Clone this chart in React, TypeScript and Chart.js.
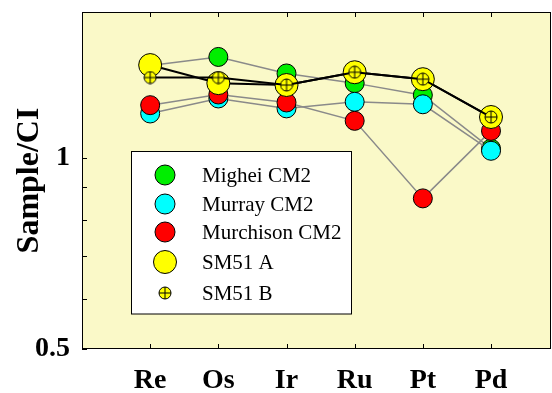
import React, { useEffect, useRef } from 'react';
import { Chart, registerables } from 'chart.js';

Chart.register(...registerables);

const categories = ['Re', 'Os', 'Ir', 'Ru', 'Pt', 'Pd'];
const seriesNames = ['Mighei CM2', 'Murray CM2', 'Murchison CM2', 'SM51 A', 'SM51 B'];
const mighei = [1.40, 1.444, 1.36, 1.313, 1.257, 1.035];
const murray = [1.176, 1.242, 1.198, 1.227, 1.216, 1.027];
const murchison = [1.212, 1.26, 1.224, 1.145, 0.864, 1.104];
const sm51A = [1.402, 1.313, 1.304, 1.366, 1.332, 1.161];
const sm51B = [1.34, 1.34, 1.304, 1.366, 1.332, 1.161];
const yTickValues = [0.5, 0.6, 0.7, 0.8, 0.9, 1];
const yLabeledTicks = [0.5, 1];
const yTitle = 'Sample/CI';

const SERIF = "'Liberation Serif', 'Times New Roman', serif";
const BG = '#faf9c8';
const GRAY = '#8a8a8a';
const GREEN = '#00ee00';
const CYAN = '#00ffff';
const RED = '#ff0000';
const YELLOW = '#ffff00';

function makeCrossCircle(r: number): HTMLCanvasElement {
  const s = Math.ceil(r * 2 + 2);
  const c = document.createElement('canvas');
  c.width = s;
  c.height = s;
  const ctx = c.getContext('2d')!;
  const m = s / 2;
  ctx.beginPath();
  ctx.arc(m, m, r, 0, Math.PI * 2);
  ctx.fillStyle = YELLOW;
  ctx.fill();
  ctx.lineWidth = 1;
  ctx.strokeStyle = '#000';
  ctx.stroke();
  ctx.beginPath();
  ctx.moveTo(m - r, m);
  ctx.lineTo(m + r, m);
  ctx.moveTo(m, m - r);
  ctx.lineTo(m, m + r);
  ctx.stroke();
  return c;
}

const toPoints = (arr: number[]) => arr.map((v, i) => ({ x: i + 1, y: v }));

const zeroPad = (s: any) => {
  s.paddingLeft = 0;
  s.paddingRight = 0;
  s.paddingTop = 0;
  s.paddingBottom = 0;
};

export default function App() {
  const ref = useRef<HTMLCanvasElement>(null);

  useEffect(() => {
    document.body.style.margin = '0';
    const crossImg = makeCrossCircle(6);

    const legendStyles = [
      { color: GREEN, r: 10 },
      { color: CYAN, r: 10 },
      { color: RED, r: 10 },
      { color: YELLOW, r: 11.5 },
      { img: true, r: 6 },
    ];

    const decor = {
      id: 'decor',
      beforeDraw(chart: any) {
        const { ctx, chartArea: a } = chart;
        ctx.save();
        ctx.fillStyle = BG;
        ctx.fillRect(a.left, a.top, a.right - a.left, a.bottom - a.top);
        ctx.restore();
      },
      afterDatasetsDraw(chart: any) {
        const { ctx, chartArea: a } = chart;
        const xs = chart.scales.x;
        const ys = chart.scales.y;
        ctx.save();
        ctx.strokeStyle = '#000';
        ctx.lineWidth = 1;
        ctx.strokeRect(Math.round(a.left) + 0.5, Math.round(a.top) + 0.5, Math.round(a.right - a.left) - 1, Math.round(a.bottom - a.top) - 1);
        ctx.beginPath();
        categories.forEach((_, i) => {
          const px = Math.round(xs.getPixelForValue(i + 1)) + 0.5;
          ctx.moveTo(px, a.bottom);
          ctx.lineTo(px, a.bottom - 5);
          ctx.moveTo(px, a.top);
          ctx.lineTo(px, a.top + 5);
        });
        yTickValues.forEach((v) => {
          const py = Math.round(ys.getPixelForValue(v)) + 0.5;
          ctx.moveTo(a.left, py);
          ctx.lineTo(a.left + 5, py);
        });
        ctx.stroke();

        // legend
        const bx = 131.5, by = 151.5, bw = 220, bh = 162.5;
        ctx.fillStyle = '#fff';
        ctx.fillRect(bx, by, bw, bh);
        ctx.strokeRect(bx, by, bw, bh);
        const rowY = [175, 204, 232, 262, 293];
        ctx.font = `21px ${SERIF}`;
        ctx.textBaseline = 'middle';
        ctx.textAlign = 'left';
        seriesNames.forEach((name, i) => {
          const st: any = legendStyles[i];
          const cx = 165, cy = rowY[i];
          if (st.img) {
            ctx.drawImage(crossImg, cx - crossImg.width / 2, cy - crossImg.height / 2);
          } else {
            ctx.beginPath();
            ctx.arc(cx, cy, st.r, 0, Math.PI * 2);
            ctx.fillStyle = st.color;
            ctx.fill();
            ctx.strokeStyle = '#000';
            ctx.stroke();
          }
          ctx.fillStyle = '#000';
          ctx.fillText(name, 202, cy + 1);
        });

        // y title
        ctx.translate(29.5, 180.5);
        ctx.rotate(-Math.PI / 2);
        ctx.font = `bold 32px ${SERIF}`;
        ctx.textAlign = 'center';
        ctx.textBaseline = 'middle';
        ctx.fillStyle = '#000';
        ctx.fillText(yTitle, 0, 0);
        ctx.restore();
      },
    };

    const gray = (label: string, data: number[], color: string, order: number) => ({
      label,
      data: toPoints(data),
      showLine: true,
      borderColor: GRAY,
      borderWidth: 1.5,
      pointBackgroundColor: color,
      pointBorderColor: '#000',
      pointBorderWidth: 1,
      pointRadius: 9.5,
      order,
    });

    const chart = new Chart(ref.current!, {
      type: 'scatter',
      data: {
        datasets: [
          gray(seriesNames[0], mighei, GREEN, 5),
          gray(seriesNames[1], murray, CYAN, 4),
          gray(seriesNames[2], murchison, RED, 3),
          {
            label: seriesNames[3],
            data: toPoints(sm51A),
            showLine: true,
            borderColor: '#000',
            borderWidth: 2,
            pointBackgroundColor: YELLOW,
            pointBorderColor: '#000',
            pointBorderWidth: 1,
            pointRadius: 11.5,
            order: 2,
          },
          {
            label: seriesNames[4],
            data: toPoints(sm51B),
            showLine: true,
            borderColor: '#000',
            borderWidth: 2,
            pointStyle: crossImg,
            pointRadius: 6,
            order: 1,
          },
        ] as any,
      },
      options: {
        responsive: false,
        animation: false,
        devicePixelRatio: 1,
        events: [],
        layout: { autoPadding: false, padding: { top: 12, right: 1, left: 0, bottom: 0 } },
        plugins: { legend: { display: false }, tooltip: { enabled: false } },
        scales: {
          x: {
            type: 'linear',
            min: 0,
            max: 6.88,
            grid: { display: false, drawTicks: false },
            border: { display: false },
            afterBuildTicks: (s: any) => {
              s.ticks = categories.map((_, i) => ({ value: i + 1 }));
            },
            afterFit: (s: any) => {
              s.height = 44;
              zeroPad(s);
            },
            ticks: {
              autoSkip: false,
              maxRotation: 0,
              padding: 15,
              color: '#000',
              font: { family: SERIF, size: 28, weight: 'bold' },
              callback: (v: any) => categories[Math.round(v) - 1] ?? '',
            },
          },
          y: {
            type: 'logarithmic',
            min: 0.5,
            max: 1.7,
            grid: { display: false, drawTicks: false },
            border: { display: false },
            afterBuildTicks: (s: any) => {
              s.ticks = yTickValues.map((v) => ({ value: v }));
            },
            afterFit: (s: any) => {
              s.width = 82;
              zeroPad(s);
            },
            ticks: {
              autoSkip: false,
              padding: 12,
              color: '#000',
              font: { family: SERIF, size: 28, weight: 'bold' },
              callback: (v: any) => (yLabeledTicks.includes(v) ? String(v) : ''),
            },
          },
        },
      } as any,
      plugins: [decor],
    });
    return () => chart.destroy();
  }, []);

  return <canvas ref={ref} width={552} height={393} style={{ display: 'block', width: 552, height: 393 }} />;
}
